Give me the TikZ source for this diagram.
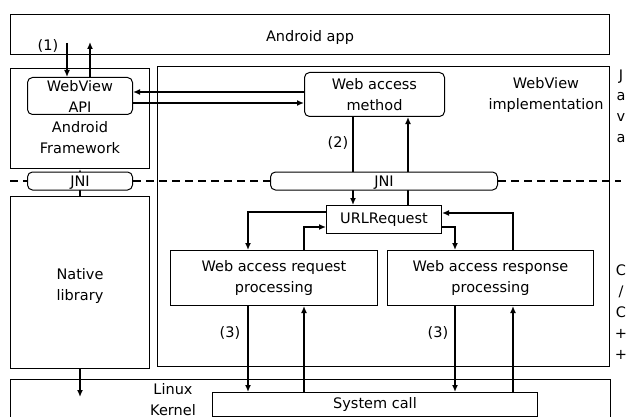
\documentclass[tikz,border=0pt]{standalone}
\usepackage{fontspec}
\setmainfont{DejaVu Sans}
\usetikzlibrary{arrows.meta}

\tikzset{
  every node/.style={font=\fontsize{14.5}{21}\selectfont},
  box/.style={draw, line width=1pt, inner sep=0pt, anchor=north west},
  rbox/.style={box, rounded corners=5pt},
  arr/.style={line width=1.8pt, -{Latex[length=7pt,width=6pt]}},
  sep/.style={line width=1.8pt, dash pattern=on 8pt off 5pt}
}

\begin{document}
\begin{tikzpicture}[x=1pt,y=1pt,yscale=-1,xscale=1]

\useasboundingbox (0,0) rectangle (631,417);
\clip (0,0) rectangle (631,417);

% Layer boxes
\node [box, minimum width=599, minimum height=40] (app) at (10,14) {};
\node [box, minimum width=139, minimum height=100] (fw) at (10,68) {};
\node [box, minimum width=452, minimum height=300] (impl) at (157,66) {};
\node [box, minimum width=139, minimum height=172] (native) at (10,196) {};
\node [box, minimum width=600, minimum height=60] (kernel) at (10,379) {};

% Layer labels
\node (applbl) at (310,38) {Android app};
\node [align=center] (fwlbl) at (80,138) {Android\\Framework};
\node [align=center] (impllbl) at (546,95) {WebView\\implementation};
\node [align=center] (nativelbl) at (80,286) {Native\\library};
\node [align=center] (kernellbl) at (173,400) {Linux\\Kernel};

% Inner blocks
\node [rbox, minimum width=105, minimum height=37, align=center] (api) at (27,77) {WebView\\API};
\node [rbox, minimum width=140, minimum height=44, align=center] (method) at (304,72) {Web access\\method};
\node [box, minimum width=115, minimum height=28] (url) at (326,205) {URLRequest};
\node [box, minimum width=207, minimum height=55, align=center] (req) at (170,250) {Web access request\\processing};
\node [box, minimum width=206, minimum height=55, align=center] (resp) at (387,250) {Web access response\\processing};
\node [box, minimum width=325, minimum height=24] (sys) at (212,392) {System call};

% Free ends
\coordinate (in1) at (67,43);
\coordinate (out1) at (90,42);
\coordinate (down1) at (80,397);

% App <-> API
\draw [arr] (in1) -- (in1 |- api.north);
\draw [arr] (out1 |- api.north) -- (out1);

% API <-> method
\draw [arr] (method.west |- 0,92) -- (api.east |- 0,92);
\draw [arr] (api.east |- 0,103) -- (method.west |- 0,103);

% Method <-> URLRequest
\draw [arr] (353,0 |- method.south) -- (353,0 |- url.north);
\draw [arr] (408,0 |- url.north) -- (408,0 |- method.south);

% URLRequest <-> processing
\draw [arr] (url.west |- 0,212) -| (req.north -| 248,0);
\draw [arr] (304,0 |- req.north) |- (url.west |- 0,227);
\draw [arr] (url.east |- 0,227) -| (resp.north -| 455,0);
\draw [arr] (513,0 |- resp.north) |- (url.east |- 0,213);

% Processing <-> system call
\draw [arr] (248,0 |- req.south) -- (248,0 |- sys.north);
\draw [arr] (304,0 |- sys.north) -- (304,0 |- req.south);
\draw [arr] (455,0 |- resp.south) -- (455,0 |- sys.north);
\draw [arr] (513,0 |- sys.north) -- (513,0 |- resp.south);

% Native library
\draw [arr] (native.north) -- (fw.south);
\draw [arr] (native.south) -- (down1);

% JNI boxes
\node [rbox, fill=white, minimum width=105, minimum height=18, text depth=0pt, yshift=-2pt] (jni1) at (27,169.5) {JNI};
\node [rbox, fill=white, minimum width=227, minimum height=18, text depth=0pt, yshift=-2pt] (jni2) at (270,169.5) {JNI};

% Java / C boundary
\draw [sep] (10,0 |- jni1.west) -- (jni1.west);
\draw [sep] (jni1.east) -- (jni2.west);
\draw [sep] (jni2.east) -- (621,0 |- jni2.east);

% Language labels
\node [align=center, font=\fontsize{14.5}{20.7}\selectfont] (java) at (621,106) {J\\a\\v\\a};
\node [align=center] (cpp) at (621,312) {C\\/\\C\\+\\+};

% Step labels
\node (s1) at (48,46) {(1)};
\node (s2) at (338,143) {(2)};
\node (s3a) at (230,333) {(3)};
\node (s3b) at (438,333) {(3)};

\end{tikzpicture}
\end{document}
